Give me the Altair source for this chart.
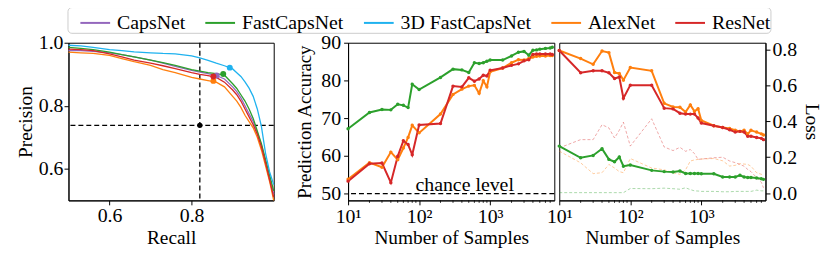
import altair as alt
import pandas as pd

FONT = "Liberation Serif"

# ---------------- data ----------------
models = ["CapsNet", "FastCapsNet", "3D FastCapsNet", "AlexNet", "ResNet"]
colors = ["#9467bd", "#2ca02c", "#1fb2ef", "#ff7f0e", "#d62728"]

# Left panel: precision-recall curves
recall = [0.50, 0.53, 0.56, 0.60, 0.63, 0.66, 0.70, 0.73, 0.76, 0.80, 0.82, 0.84, 0.86,
          0.88, 0.90, 0.91, 0.92, 0.93, 0.94, 0.95, 0.96, 0.97, 0.98, 0.99, 1.00]
prec_capsnet = [0.975, 0.975, 0.973, 0.968, 0.962, 0.955, 0.945, 0.935, 0.925, 0.912, 0.907, 0.902, 0.896,
                0.885, 0.860, 0.845, 0.825, 0.800, 0.775, 0.750, 0.715, 0.675, 0.625, 0.575, 0.520]
prec_fastcaps = [0.985, 0.982, 0.978, 0.970, 0.962, 0.955, 0.945, 0.937, 0.928, 0.915, 0.910, 0.905, 0.902,
                 0.897, 0.870, 0.855, 0.835, 0.815, 0.790, 0.760, 0.720, 0.680, 0.630, 0.580, 0.530]
prec_3dfast = [0.992, 0.990, 0.985, 0.978, 0.975, 0.971, 0.968, 0.966, 0.965, 0.958, 0.952, 0.944, 0.935,
               0.927, 0.917, 0.905, 0.893, 0.876, 0.856, 0.830, 0.790, 0.735, 0.650, 0.590, 0.550]
prec_alexnet = [0.970, 0.968, 0.966, 0.960, 0.950, 0.940, 0.928, 0.915, 0.905, 0.890, 0.885, 0.880, 0.875,
                0.860, 0.830, 0.815, 0.795, 0.770, 0.750, 0.730, 0.700, 0.660, 0.610, 0.560, 0.500]
prec_resnet = [0.980, 0.978, 0.975, 0.965, 0.955, 0.945, 0.935, 0.927, 0.918, 0.905, 0.900, 0.896, 0.890,
               0.875, 0.850, 0.835, 0.815, 0.790, 0.765, 0.740, 0.710, 0.670, 0.620, 0.565, 0.510]
marker_recall = [0.861, 0.877, 0.893, 0.853, 0.853]
marker_precision = [0.896, 0.901, 0.921, 0.879, 0.893]
op_recall = [0.82]
op_precision = [0.738]

# Middle / right panels
samples = [10, 20, 30, 40, 50, 60, 70, 80, 100, 200, 300, 400, 500, 600, 700, 800, 900, 1000,
           1500, 2000, 2500, 3000, 3500, 4000, 4500, 5000, 6000, 7000, 7500]
acc_fastcaps = [67.2, 71.5, 72.3, 72.2, 73.7, 73.4, 72.8, 79.0, 77.6, 80.8, 83.0, 82.8, 82.1, 84.7, 84.5,
                84.7, 85.1, 85.4, 85.4, 86.5, 87.5, 87.7, 86.7, 88.0, 88.1, 88.3, 88.5, 88.6, 88.8]
acc_alexnet = [53.8, 58.2, 57.0, 61.0, 59.0, 62.1, 64.9, 68.1, 66.1, 71.1, 76.3, 77.7, 78.5, 78.7, 76.6,
               79.9, 78.3, 82.3, 83.3, 84.7, 85.5, 85.4, 85.8, 86.2, 86.4, 86.5, 86.5, 86.6, 86.6]
acc_resnet = [53.3, 57.9, 58.1, 52.9, 59.9, 64.0, 63.0, 60.3, 68.2, 68.6, 78.5, 78.3, 80.7, 79.8, 80.4,
              81.4, 81.2, 82.7, 83.3, 84.0, 84.4, 85.2, 85.5, 86.9, 87.0, 87.0, 87.0, 87.0, 86.9]
chance_level = [50]
chance_label = ["chance level"]
chance_label_at = [438]

loss_alexnet = [0.794, 0.749, 0.717, 0.791, 0.782, 0.671, 0.666, 0.629, 0.699, 0.681, 0.500, 0.480, 0.478,
                0.451, 0.491, 0.455, 0.470, 0.405, 0.375, 0.365, 0.360, 0.350, 0.344, 0.350, 0.330, 0.350,
                0.340, 0.330, 0.324]
loss_resnet = [0.794, 0.670, 0.681, 0.681, 0.670, 0.638, 0.646, 0.528, 0.601, 0.601, 0.473, 0.469, 0.445,
               0.440, 0.440, 0.440, 0.418, 0.390, 0.375, 0.365, 0.353, 0.340, 0.344, 0.340, 0.317, 0.317,
               0.310, 0.305, 0.298]
loss_fastcaps = [0.262, 0.197, 0.210, 0.248, 0.188, 0.175, 0.201, 0.150, 0.157, 0.127, 0.120, 0.118, 0.123,
                 0.110, 0.110, 0.110, 0.110, 0.108, 0.108, 0.090, 0.090, 0.090, 0.100, 0.090, 0.087, 0.087,
                 0.085, 0.080, 0.077]
loss2_resnet = [0.252, 0.298, 0.298, 0.381, 0.363, 0.307, 0.350, 0.395, 0.262, 0.414, 0.257, 0.237, 0.255,
                0.233, 0.243, 0.220, 0.188, 0.190, 0.197, 0.200, 0.179, 0.170, 0.160, 0.150, 0.132, 0.120,
                0.087, 0.060, 0.030]
loss2_alexnet = [0.234, 0.169, 0.109, 0.114, 0.160, 0.140, 0.120, 0.114, 0.193, 0.140, 0.130, 0.114, 0.105,
                 0.130, 0.179, 0.185, 0.188, 0.190, 0.193, 0.180, 0.151, 0.155, 0.164, 0.162, 0.160, 0.150,
                 0.114, 0.105, 0.100]
loss2_fastcaps = [0.003, 0.003, 0.003, 0.003, 0.003, 0.003, 0.003, 0.003, 0.026, 0.025, 0.028, 0.025, 0.022,
                  0.030, 0.020, 0.013, 0.012, 0.010, 0.010, 0.008, 0.008, 0.010, 0.010, 0.010, 0.010, 0.010,
                  0.017, 0.013, 0.013]
minor_ticks = [20, 30, 40, 50, 60, 70, 80, 90, 200, 300, 400, 500, 600, 700, 800, 900,
               2000, 3000, 4000, 5000, 6000, 7000]

# ---------------- tables ----------------
pr_rows = []
for m, p in zip(models, [prec_capsnet, prec_fastcaps, prec_3dfast, prec_alexnet, prec_resnet]):
    for i, (r, v) in enumerate(zip(recall, p)):
        pr_rows.append({"model": m, "recall": r, "precision": v, "idx": i})
pr_df = pd.DataFrame(pr_rows)
mk_df = pd.DataFrame({"model": models, "recall": marker_recall, "precision": marker_precision})
op_df = pd.DataFrame({"recall": op_recall, "precision": op_precision})

acc_rows = []
for m, a in [("FastCapsNet", acc_fastcaps), ("AlexNet", acc_alexnet), ("ResNet", acc_resnet)]:
    for n, v in zip(samples, a):
        acc_rows.append({"model": m, "n": n, "acc": v})
acc_df = pd.DataFrame(acc_rows)
chance_df = pd.DataFrame({"n": chance_label_at, "acc": chance_level, "label": chance_label})

loss_rows, loss2_rows = [], []
for m, a in [("AlexNet", loss_alexnet), ("ResNet", loss_resnet), ("FastCapsNet", loss_fastcaps)]:
    for n, v in zip(samples, a):
        loss_rows.append({"model": m, "n": n, "loss": v})
for m, a in [("AlexNet", loss2_alexnet), ("ResNet", loss2_resnet), ("FastCapsNet", loss2_fastcaps)]:
    for n, v in zip(samples, a):
        loss2_rows.append({"model": m, "n": n, "loss": v})
loss_df = pd.DataFrame(loss_rows)
loss2_df = pd.DataFrame(loss2_rows)
minor_df = pd.DataFrame({"n": minor_ticks})

# ---------------- chart ----------------
W1, W2, W3, H = 207, 208, 208, 159
cscale = alt.Scale(domain=models, range=colors)
color_leg = alt.Color("model:N", scale=cscale, legend=alt.Legend(
    title=None, orient="none", legendX=-1, legendY=-36, direction="horizontal", columns=5,
    symbolType="stroke", symbolSize=900, symbolStrokeWidth=2, symbolOffset=12,
    labelFont=FONT, labelFontSize=20, labelColor="black", labelOffset=6, columnPadding=7,
    padding=0, strokeColor="#cccccc", cornerRadius=4, fillColor="white", labelLimit=300,
    labelExpr="datum.label == 'ResNet' ? 'ResNet  ' : datum.label"))
color_nl = alt.Color("model:N", scale=cscale, legend=None)

xpr = alt.X("recall:Q", scale=alt.Scale(domain=[0.5, 1.0], nice=False, zero=False),
            axis=alt.Axis(values=[0.6, 0.8], format=".1f", title="Recall"))
ypr = alt.Y("precision:Q", scale=alt.Scale(domain=[0.5, 1.0], nice=False, zero=False),
            axis=alt.Axis(values=[0.6, 0.7, 0.8, 0.9, 1.0], title="Precision",
                          labelExpr="(round(datum.value*10) % 2 == 0) ? format(datum.value, '.1f') : ''"))

pr_lines = alt.Chart(pr_df).mark_line(strokeWidth=1.3).encode(
    x=xpr, y=ypr, color=color_leg, order="idx:Q", detail="model:N")
pr_marks = alt.Chart(mk_df).mark_circle(size=36, opacity=1).encode(
    x="recall:Q", y="precision:Q", color=color_nl)
op_v = alt.Chart(op_df).mark_rule(color="black", strokeWidth=1.3, strokeDash=[5, 3]).encode(x="recall:Q")
op_h = alt.Chart(op_df).mark_rule(color="black", strokeWidth=1.3, strokeDash=[5, 3]).encode(y="precision:Q")
op_p = alt.Chart(op_df).mark_circle(color="black", size=30, opacity=1).encode(x="recall:Q", y="precision:Q")
left = alt.layer(op_v, op_h, pr_lines, pr_marks, op_p).properties(width=W1, height=H)

log_lbl = "datum.value == 10 ? '10\u00b9' : datum.value == 100 ? '10\u00b2' : '10\u00b3'"
nscale = alt.Scale(type="log", domain=[10, 8000], nice=False)
xaxis = alt.Axis(values=[10, 100, 1000], labelExpr=log_lbl, title="Number of Samples",
                 labelPadding=2, titlePadding=2)
xn = alt.X("n:Q", scale=nscale, axis=xaxis)
minor_rules = alt.Chart(minor_df).mark_rule(color="black", strokeWidth=0.8).encode(
    x=xn, y=alt.value(H), y2=alt.value(H + 2.5))

yacc = alt.Y("acc:Q", scale=alt.Scale(domain=[48.2, 90], nice=False, zero=False),
             axis=alt.Axis(values=[50, 60, 70, 80, 90], title="Prediction Accuracy", titleFontSize=19,
                           labelPadding=3, titlePadding=6))
acc_lines = alt.Chart(acc_df).mark_line(strokeWidth=2).encode(x=xn, y=yacc, color=color_nl)
acc_pts = alt.Chart(acc_df).mark_circle(size=12, opacity=1).encode(x=xn, y=yacc, color=color_nl)
chance_rule = alt.Chart(chance_df).mark_rule(color="black", strokeWidth=1.2, strokeDash=[5, 3]).encode(y=yacc)
chance_txt = alt.Chart(chance_df).mark_text(font=FONT, fontSize=20, baseline="alphabetic", dy=-3,
                                            color="black").encode(x=xn, y=yacc, text="label:N")
middle = alt.layer(chance_rule, acc_lines, acc_pts, chance_txt, minor_rules).properties(width=W2, height=H)

yloss = alt.Y("loss:Q", scale=alt.Scale(domain=[-0.04, 0.837], nice=False, zero=False),
              axis=alt.Axis(values=[0.0, 0.2, 0.4, 0.6, 0.8], format=".1f", orient="right", title="Loss",
                            labelPadding=2, titlePadding=5))
loss2_lines = alt.Chart(loss2_df).mark_line(strokeWidth=0.9, strokeDash=[3, 2], opacity=0.45).encode(
    x=xn, y=yloss, color=color_nl)
loss_lines = alt.Chart(loss_df).mark_line(strokeWidth=2).encode(x=xn, y=yloss, color=color_nl)
loss_pts = alt.Chart(loss_df).mark_circle(size=12, opacity=1).encode(x=xn, y=yloss, color=color_nl)
right = alt.layer(loss2_lines, loss_lines, loss_pts, minor_rules).properties(width=W3, height=H)

inner = alt.hconcat(middle, right, spacing=5, bounds="flush")
chart = alt.hconcat(left, inner, spacing=75, bounds="flush").properties(
    padding={"left": 7, "top": -3, "right": 0, "bottom": 0}
).configure(font=FONT).configure_view(stroke="black", strokeWidth=1).configure_axis(
    labelFont=FONT, titleFont=FONT, labelFontSize=20, titleFontSize=19.5, titleFontWeight="normal",
    labelColor="black", titleColor="black", tickColor="black", domainColor="black", tickSize=4.5,
    labelPadding=1, titlePadding=3, grid=False, domainWidth=1, tickWidth=1, labelOverlap=False,
    labelFlush=False
).configure_legend(labelFont=FONT, labelFontSize=20)

chart.save("out.html", embed_options={"renderer": "svg", "actions": False})
